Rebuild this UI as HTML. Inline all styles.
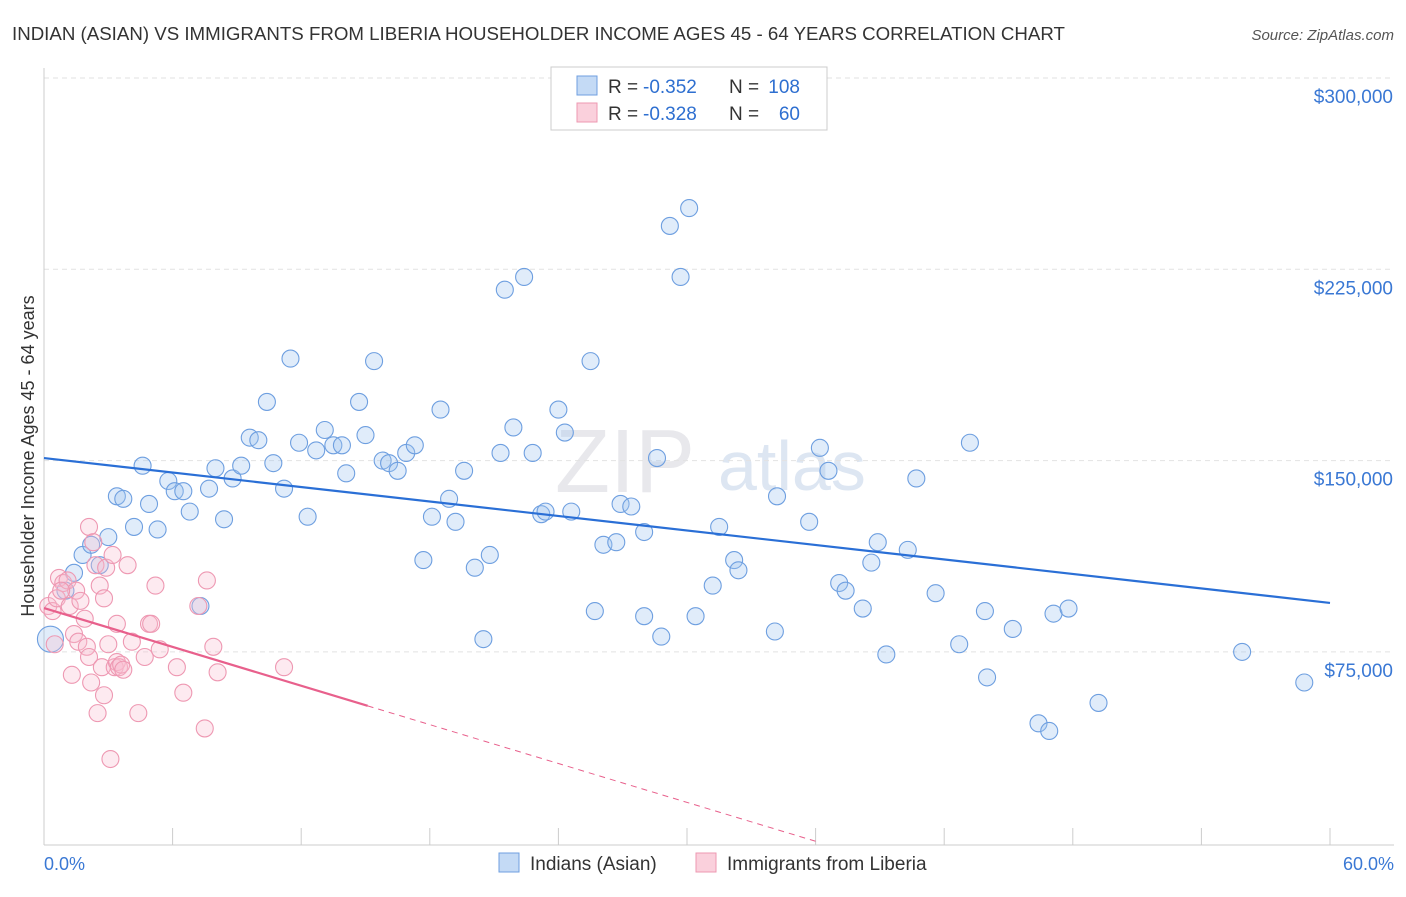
<!DOCTYPE html>
<html><head><meta charset="utf-8"><style>
body{margin:0;background:#fff;font-family:"Liberation Sans",sans-serif;}
svg text{font-family:"Liberation Sans",sans-serif;}
</style></head><body>
<svg id="chart" width="1406" height="892">
<text x="12" y="40" font-size="18.7" fill="#333">INDIAN (ASIAN) VS IMMIGRANTS FROM LIBERIA HOUSEHOLDER INCOME AGES 45 - 64 YEARS CORRELATION CHART</text>
<text x="1394" y="40" font-size="15" fill="#555" text-anchor="end" font-style="italic">Source: ZipAtlas.com</text>
<text x="555" y="492" font-size="90" fill="#e8e8ec" font-family="Liberation Serif">ZIP</text>
<text x="718" y="490" font-size="70" fill="#dde6f2">atlas</text>
<g id="grid"></g><g id="axes"></g><g id="marks"></g>
<text transform="translate(34,456) rotate(-90)" font-size="18" fill="#333" text-anchor="middle">Householder Income Ages 45 - 64 years</text>
<text x="44" y="870" font-size="18" fill="#3a78d4">0.0%</text>
<text x="1394" y="870" font-size="18" fill="#3a78d4" text-anchor="end">60.0%</text>
<g>
<rect x="551" y="67" width="276" height="63" fill="#fff" stroke="#ccc"/>
<rect x="577" y="76" width="20" height="19" fill="#c4daf5" stroke="#6f9fe0"/>
<rect x="577" y="103" width="20" height="19" fill="#fad0dc" stroke="#ee98b2"/>
<text x="608" y="93" font-size="19" fill="#333">R =</text>
<text x="643" y="93" font-size="19" fill="#2e6fd0">-0.352</text>
<text x="729" y="93" font-size="19" fill="#333">N =</text>
<text x="800" y="93" font-size="19" fill="#2e6fd0" text-anchor="end">108</text>
<text x="608" y="120" font-size="19" fill="#333">R =</text>
<text x="643" y="120" font-size="19" fill="#2e6fd0">-0.328</text>
<text x="729" y="120" font-size="19" fill="#333">N =</text>
<text x="800" y="120" font-size="19" fill="#2e6fd0" text-anchor="end">60</text>
</g>
<g>
<rect x="499" y="853" width="20" height="19" fill="#c4daf5" stroke="#6f9fe0"/>
<text x="530" y="870" font-size="19" fill="#333">Indians (Asian)</text>
<rect x="696" y="853" width="20" height="19" fill="#fad0dc" stroke="#ee98b2"/>
<text x="727" y="870" font-size="19" fill="#333">Immigrants from Liberia</text>
</g>
</svg>
<script>
const yTicks=[75,150,225,300];
const yTickLabels=["$75,000","$150,000","$225,000","$300,000"];
const xTicks=[0,6,12,18,24,30,36,42,48,54,60];
const blueX=[0.3,1.0,1.4,1.8,2.2,3.0,2.6,3.4,3.7,4.6,4.2,4.9,5.3,5.8,6.1,6.5,6.8,7.3,7.7,8.0,8.4,8.8,9.2,9.6,10.0,10.4,10.7,11.2,11.5,11.9,12.3,12.7,13.1,13.5,13.9,14.1,14.7,15.0,15.4,15.8,16.1,16.5,16.9,17.3,17.7,18.1,18.5,18.9,19.2,19.6,20.1,20.5,20.8,21.3,21.5,21.9,22.4,22.8,23.2,23.4,24.0,24.3,24.6,25.5,25.7,26.1,26.7,26.9,27.4,28.0,28.0,28.6,28.8,29.2,29.7,30.1,30.4,31.2,31.5,32.2,32.4,34.1,34.2,35.7,36.2,36.6,37.1,37.4,38.2,38.6,38.9,39.3,40.3,40.7,41.6,42.7,43.2,43.9,44.0,45.2,46.4,46.9,47.1,47.8,49.2,55.9,58.8];
const blueY=[80,99,106,113,117,120,109,136,135,148,124,133,123,142,138,138,130,93,139,147,127,143,148,159,158,173,149,139,190,157,128,154,162,156,156,145,173,160,189,150,149,146,153,156,111,128,170,135,126,146,108,80,113,153,217,163,222,153,129,130,170,161,130,189,91,117,118,133,132,122,89,151,81,242,222,249,89,101,124,111,107,83,136,126,155,146,102,99,92,110,118,74,115,143,98,78,157,91,65,84,47,44,90,92,55,75,63];
const pinkX=[0.2,0.4,0.6,0.7,0.9,1.1,1.2,1.3,1.4,1.5,1.6,1.7,1.9,2.0,2.1,2.1,2.2,2.3,2.4,2.5,2.6,2.7,2.8,2.8,2.9,3.0,3.1,3.2,3.3,3.4,3.4,3.5,3.6,3.7,3.9,4.1,4.4,4.7,4.9,5.0,5.2,5.4,6.2,6.5,7.2,7.5,7.6,7.9,8.1,11.2,0.5,0.8];
const pinkY=[93,91,96,104,102,103,93,66,82,99,79,95,88,77,73,124,63,118,109,51,101,69,58,96,108,78,33,113,69,86,71,69,70,68,109,79,51,73,86,86,101,76,69,59,93,45,103,77,67,69,78,99];
const blueTrend=[151,94.2];
const pinkTrend=[92.2,-2.54];
const NS="http://www.w3.org/2000/svg";
const X=p=>44+p*(1330-44)/60;
const Y=v=>78+(300-v)*191.3/75;
function mk(t,a,parent){const e=document.createElementNS(NS,t);for(const k in a)e.setAttribute(k,a[k]);document.getElementById(parent).appendChild(e);return e;}
yTicks.forEach((t,i)=>{
 const l=mk('line',{x1:44,x2:1394,y1:Y(t),y2:Y(t),stroke:'#e2e2e2','stroke-dasharray':'5,4'},'grid');
 
 
 const tx=mk('text',{x:1393,y:Y(t)+25,'font-size':19,fill:'#3a78d4','text-anchor':'end'},'axes');
 tx.textContent=yTickLabels[i];
 
 
});
const ax=mk('line',{x1:44,x2:1394,y1:845,y2:845,stroke:'#ccc'},'axes');


const ay=mk('line',{x1:44,x2:44,y1:68,y2:845,stroke:'#ccc'},'axes');


xTicks.forEach(t=>{const l=mk('line',{x1:X(t),x2:X(t),y1:828,y2:845,stroke:'#ccc'},'axes');
 
 });
blueX.forEach((x,i)=>{const c=mk('circle',{cx:X(x),cy:Y(blueY[i]),r:i===0?13:8.5,fill:'rgba(160,196,240,0.32)',stroke:'#6e9fe0','stroke-width':1.1},'marks');
 
 });
pinkX.forEach((x,i)=>{const c=mk('circle',{cx:X(x),cy:Y(pinkY[i]),r:8.5,fill:'rgba(248,190,208,0.32)',stroke:'#ee98b2','stroke-width':1.1},'marks');
 
 });
const bt=mk('line',{x1:X(0),y1:Y(blueTrend[0]),x2:X(60),y2:Y(blueTrend[1]),stroke:'#2a6fd6','stroke-width':2.2},'marks');


const pv=x=>pinkTrend[0]+pinkTrend[1]*x;
const pt=mk('line',{x1:X(0),y1:Y(pv(0)),x2:X(15.1),y2:Y(pv(15.1)),stroke:'#e8608c','stroke-width':2.2},'marks');


const pd=mk('line',{x1:X(15.1),y1:Y(pv(15.1)),x2:X(36),y2:Y(pv(36)),stroke:'#e8608c','stroke-width':1,'stroke-dasharray':'6,5'},'marks');


</script>
</body></html>
